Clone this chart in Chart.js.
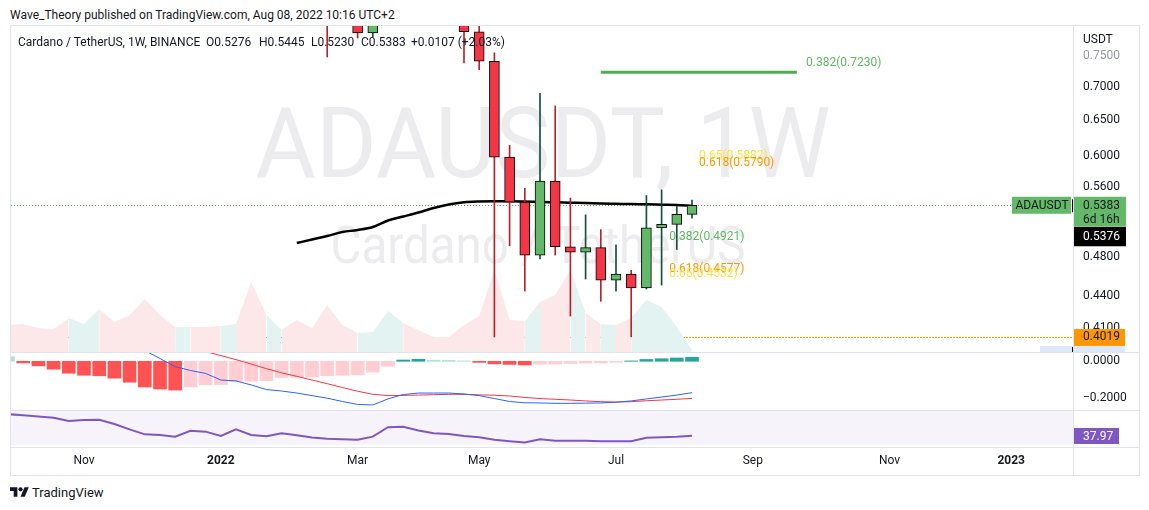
<!DOCTYPE html>
<html>
<head>
<meta charset="utf-8">
<title>ADAUSDT 1W</title>
<script src="https://cdn.jsdelivr.net/npm/chart.js@4.4.1/dist/chart.umd.min.js"></script>
<style>
  html, body { margin: 0; padding: 0; background: #fff; }
  body { position: relative; width: 1149px; height: 510px; overflow: hidden;
         font-family: Roboto, 'Liberation Sans', sans-serif; color: #131722; }
  canvas { position: absolute; }
  .line { position: absolute; background: #e0e3eb; }
  .txt { position: absolute; white-space: nowrap; font-size: 12px; line-height: 14px; }
  #legend { position: absolute; left: 0; top: 0; z-index: 2; }
</style>
</head>
<body>
<div class="txt" style="left:10px; top:8px;">Wave_Theory published on TradingView.com, Aug 08, 2022 10:16 UTC+2</div>

<canvas id="main" width="1128" height="326" style="left:11px; top:26px;"></canvas>
<canvas id="macd" width="1128" height="57" style="left:11px; top:353px;"></canvas>
<canvas id="rsi" width="1128" height="64" style="left:11px; top:411px;"></canvas>

<div class="line" style="left:10px; top:25px; width:1130px; height:1px;"></div>
<div class="line" style="left:10px; top:352px; width:1130px; height:1px;"></div>
<div class="line" style="left:10px; top:410px; width:1130px; height:1px;"></div>
<div class="line" style="left:10px; top:447px; width:1130px; height:1px;"></div>
<div class="line" style="left:10px; top:475px; width:1130px; height:1px;"></div>
<div class="line" style="left:10px; top:25px; width:1px; height:451px;"></div>
<div class="line" style="left:1073px; top:25px; width:1px; height:451px;"></div>
<div class="line" style="left:1139px; top:25px; width:1px; height:451px;"></div>

<div id="legend"></div>

<svg style="position:absolute; left:10px; top:487px;" width="19" height="10" viewBox="0 4 36 18">
  <path d="M14 22H7V11H0V4h14v18zM28 22h-8l7.5-18h8L28 22z" fill="#131722"/>
  <circle cx="20" cy="8" r="4" fill="#131722"/>
</svg>
<div class="txt" style="left:32px; top:485px; font-size:13px; line-height:15px;">TradingView</div>

<script>
// week index: 0 = week of 1 Nov 2021, one step per weekly bar
const weeks = [-5, -4, -3, -2, -1, 0, 1, 2, 3, 4, 5, 6, 7, 8, 9, 10, 11, 12, 13, 14, 15, 16, 17, 18,
               19, 20, 21, 22, 23, 24, 25, 26, 27, 28, 29, 30, 31, 32, 33, 34, 35, 36, 37, 38, 39, 40];

const timeTicks = [0, 9, 18, 26, 35, 44, 53, 61];
const timeLabels = ['Nov', '2022', 'Mar', 'May', 'Jul', 'Sep', 'Nov', '2023'];

const priceTicks = [0.41, 0.44, 0.48, 0.56, 0.60, 0.65, 0.70, 0.75];

// candles visible in the price pane
const candleWeeks = [16, 18, 19, 25, 26, 27, 28, 29, 30, 31, 32, 33, 34, 35, 36, 37, 38, 39, 40];
const opens  = [0.960, 0.820, 0.789, 0.920, 0.791, 0.741, 0.599, 0.542, 0.482, 0.568, 0.491, 0.485, 0.490, 0.456, 0.462, 0.448, 0.512, 0.516, 0.5276];
const highs  = [0.990, 0.860, 0.860, 0.950, 0.920, 0.755, 0.615, 0.559, 0.690, 0.671, 0.547, 0.527, 0.510, 0.493, 0.466, 0.550, 0.557, 0.537, 0.5445];
const lows   = [0.748, 0.780, 0.782, 0.738, 0.727, 0.4019, 0.492, 0.445, 0.478, 0.482, 0.421, 0.457, 0.435, 0.445, 0.402, 0.447, 0.451, 0.488, 0.5230];
const closes = [0.870, 0.789, 0.840, 0.791, 0.741, 0.599, 0.542, 0.482, 0.568, 0.491, 0.485, 0.490, 0.456, 0.462, 0.448, 0.512, 0.516, 0.5276, 0.5383];

// moving average
const maWeeks = [14, 15, 16, 17, 18, 19, 20, 21, 22, 23, 24, 25, 26, 27, 28, 29, 30, 31, 32, 33, 34, 35, 36, 37, 38, 39, 40];
const maValues = [0.4950, 0.4989, 0.5028, 0.5073, 0.5095, 0.5129, 0.5204, 0.5250, 0.5297, 0.5350, 0.5392, 0.5418, 0.5428,
                  0.5432, 0.5431, 0.5427, 0.5422, 0.5418, 0.5414, 0.5410, 0.5405, 0.5401, 0.5397, 0.5394, 0.5390, 0.5386, 0.5376];

// volume (million ADA), one per week; weeks whose bar closed up
const volumes = [1080, 1120, 960, 920, 1360, 1120, 1720, 1200, 1480, 2120, 1480, 1000,
                 1000, 1000, 1040, 1120, 2800, 1480, 880, 1280, 960, 1880, 1080, 760,
                 800, 1640, 1160, 880, 600, 600, 1080, 1440, 3280, 1280, 1240, 2000,
                 2280, 3280, 1560, 1120, 1080, 1360, 2080, 1800, 1000, 80];
const upWeeks = [0, 1, 7, 10, 13, 19, 20, 21, 30, 33, 35, 37, 38, 39, 40];

// MACD
const histValues = [0.025, -0.009, -0.025, -0.043, -0.065, -0.076, -0.079, -0.092, -0.114, -0.140, -0.151, -0.157,
                    -0.140, -0.128, -0.127, -0.110, -0.108, -0.106, -0.088, -0.087, -0.085, -0.079, -0.076, -0.074, -0.059, -0.027,
                    0.007, 0.011, 0.006, 0.005, 0.002, -0.006, -0.014, -0.017, -0.020,
                    -0.016, -0.015, -0.012, -0.010, -0.009, -0.005, 0.002, 0.010, 0.014, 0.018, 0.022];
const macdWeeks = weeks.slice(weeks.indexOf(4));
const macdLine = [0.059, 0.015, -0.029, -0.050, -0.066, -0.102, -0.107, -0.129, -0.154, -0.162, -0.173, -0.187, -0.201,
                  -0.219, -0.235, -0.238, -0.205, -0.181, -0.173, -0.173, -0.173, -0.178, -0.187, -0.203, -0.219, -0.226,
                  -0.227, -0.229, -0.229, -0.228, -0.227, -0.223, -0.216, -0.205, -0.195, -0.184, -0.171];
const signalWeeks = weeks.slice(weeks.indexOf(8));
const signalLine = [0.053, 0.031, 0.009, -0.015, -0.040, -0.063, -0.082, -0.102, -0.122, -0.143, -0.163, -0.180, -0.187,
                    -0.186, -0.184, -0.182, -0.180, -0.180, -0.183, -0.185, -0.189, -0.197, -0.203, -0.207, -0.211, -0.216,
                    -0.220, -0.222, -0.220, -0.215, -0.211, -0.207, -0.202];
const macdTicks = [0, -0.2];

// RSI
const rsiValues = [56.6, 55.6, 54.6, 53.5, 50.7, 51.6, 51.8, 48.1, 43.5, 39.2, 38.6, 37.2,
                   42.3, 41.5, 37.8, 43.5, 38.6, 37.5, 40.1, 38.4, 36.5, 35.4, 34.9, 34.6,
                   37.2, 45.3, 45.8, 42.5, 40.1, 39.5, 37.8, 36.6, 34.5, 33.3, 32.1, 35.0,
                   33.7, 33.7, 33.7, 33.3, 33.2, 33.2, 36.2, 36.6, 37.1, 37.97];
const rsiBand = [30, 70];

// fibonacci levels drawn on the chart
const fibRatios = ['0.382', '0.65', '0.618', '0.382', '0.618', '0.65'];
const fibPrices = [0.7230, 0.5882, 0.5790, 0.4921, 0.4577, 0.4532];
const fibLabelWeek = [47.5, 40.46, 40.46, 38.5, 38.5, 38.5];
const fibLineWeeks = [34, 46.9];

const keyLevel = 0.4019;
const keyLevelFrom = 25;
const symbol = 'ADAUSDT';
const countdown = '6d 16h';
const watermarkTitle = 'ADAUSDT, 1W';
const watermarkSub = 'Cardano / TetherUS';

// ---- styles ----
const UP = '#63b967', DOWN = '#f23645';
const WICK_UP = '#12503a', WICK_DOWN = '#b8202c';
const FIB_COLORS = { '0.382': '#5cb860', '0.618': '#ff9800', '0.65': '#fde03c' };
const FONT = "Roboto, 'Liberation Sans', sans-serif";

Chart.defaults.font.family = FONT;
Chart.defaults.font.size = 12;
Chart.defaults.color = '#131722';

// x mapping shared by all panes: chart area is 1062px wide, week 0 sits 73px from its left edge
const WEEK_PX = 15.2, WEEK0_PX = 73, AREA_W = 1062;
const xScale = {
  type: 'linear', display: false, offset: false, bounds: 'data',
  min: -WEEK0_PX / WEEK_PX, max: (AREA_W - WEEK0_PX) / WEEK_PX
};
const common = {
  responsive: false, animation: false, devicePixelRatio: 1,
  layout: { padding: 0, autoPadding: false },
  plugins: { legend: { display: false }, tooltip: { enabled: false } },
  events: []
};
const rightAxis = {
  position: 'right', bounds: 'data',
  grid: { display: false, drawTicks: false }, border: { display: false },
  afterFit: s => { s.width = 66; s.paddingTop = 0; s.paddingBottom = 0; }
};

const isUp = i => closes[i] >= opens[i];
const last = candleWeeks.length - 1;

// ---- legend ----
(function () {
  const chg = closes[last] - opens[last];
  const pct = chg / opens[last] * 100;
  const items = [
    [18, 'Cardano / TetherUS, 1W, BINANCE'],
    [206, 'O' + opens[last].toFixed(4)],
    [259, 'H' + highs[last].toFixed(4)],
    [311, 'L' + lows[last].toFixed(4)],
    [361, 'C' + closes[last].toFixed(4)],
    [411, (chg >= 0 ? '+' : '') + chg.toFixed(4) + ' (' + (pct >= 0 ? '+' : '') + pct.toFixed(2) + '%)']
  ];
  const box = document.getElementById('legend');
  items.forEach(([left, text]) => {
    const s = document.createElement('div');
    s.className = 'txt';
    s.style.left = left + 'px';
    s.style.top = '35px';
    s.textContent = text;
    box.appendChild(s);
  });
})();

// ---- price pane ----
const mainDecor = {
  id: 'mainDecor',
  beforeDatasetsDraw(chart) {
    const { ctx, chartArea: a, scales: { x, y } } = chart;
    const cx = (a.left + a.right) / 2;
    ctx.save();
    ctx.beginPath();
    ctx.rect(a.left, a.top, a.right - a.left, a.bottom - a.top);
    ctx.clip();

    ctx.fillStyle = '#ececef';
    ctx.textAlign = 'center';
    ctx.textBaseline = 'alphabetic';
    ctx.font = '99px ' + FONT;
    ctx.fillText(watermarkTitle, cx + 1, a.top + 151, 575);
    ctx.font = '51px ' + FONT;
    ctx.fillText(watermarkSub, cx - 4, a.top + 237, 415);

    const hline = (price, x0, color, dash) => {
      const py = Math.round(y.getPixelForValue(price)) + 0.5;
      ctx.strokeStyle = color;
      ctx.lineWidth = 1;
      ctx.setLineDash(dash);
      ctx.beginPath();
      ctx.moveTo(x0, py);
      ctx.lineTo(a.right, py);
      ctx.stroke();
    };
    hline(keyLevel, a.left, '#6a6d78', [1, 2]);
    hline(keyLevel, x.getPixelForValue(keyLevelFrom), '#ff9800', [2, 1]);
    hline(closes[last], a.left, '#4caf50', [1, 2]);
    ctx.restore();
  },
  afterDatasetsDraw(chart) {
    const { ctx, scales: { x, y } } = chart;
    ctx.save();
    ctx.font = '12px ' + FONT;
    ctx.textAlign = 'left';
    ctx.textBaseline = 'alphabetic';
    fibRatios.forEach((r, i) => {
      ctx.fillStyle = FIB_COLORS[r];
      ctx.fillText(r + '(' + fibPrices[i].toFixed(4) + ')',
        x.getPixelForValue(fibLabelWeek[i]), y.getPixelForValue(fibPrices[i]) - 6);
    });
    ctx.restore();
  },
  afterDraw(chart) {
    const { ctx, chartArea: a, scales: { y } } = chart;
    const ax = a.right;
    const ly = y.getPixelForValue(closes[last]);
    const ky = y.getPixelForValue(keyLevel);
    ctx.save();
    ctx.font = '12px ' + FONT;
    ctx.textBaseline = 'middle';

    // symbol tag and last price
    ctx.fillStyle = UP;
    ctx.fillRect(ax - 61, ly - 8.5, 59, 17);
    ctx.fillRect(ax, ly - 8.5, 53, 29.5);
    ctx.fillStyle = '#000';
    ctx.fillRect(ax - 1, ly - 6, 1, 13);
    ctx.fillStyle = '#131722';
    ctx.textAlign = 'center';
    ctx.fillText(symbol, ax - 31, ly + 0.5);
    ctx.textAlign = 'left';
    ctx.fillText(closes[last].toFixed(4), ax + 10, ly + 0.5);
    ctx.fillText(countdown, ax + 10, ly + 14.5);

    // moving average value
    ctx.fillStyle = '#000';
    ctx.fillRect(ax, ly + 21.5, 53, 19.5);
    ctx.fillStyle = '#fff';
    ctx.fillText(maValues[maValues.length - 1].toFixed(4), ax + 10, ly + 31.5);

    // key level
    ctx.fillStyle = '#ff9800';
    ctx.fillRect(ax, ky - 8, 52, 17);
    ctx.fillStyle = '#131722';
    ctx.fillText(keyLevel.toFixed(4), ax + 10, ky + 0.5);
    ctx.fillStyle = '#dce8fb';
    ctx.fillRect(ax - 33, ky + 9, 85, 8);
    ctx.fillStyle = '#000';
    ctx.fillRect(ax - 1, ky + 10, 1, 6);

    ctx.fillStyle = '#131722';
    ctx.fillText('USDT', ax + 10, 14);
    ctx.restore();
  }
};

new Chart(document.getElementById('main'), {
  type: 'bar',
  data: {
    datasets: [
      {
        type: 'line', yAxisID: 'yv',
        data: weeks.map((w, i) => ({ x: w, y: volumes[i] })),
        fill: 'origin', borderColor: 'transparent', borderWidth: 0, pointRadius: 0,
        backgroundColor: '#fde8e9',
        segment: { backgroundColor: c => upWeeks.includes(weeks[c.p1DataIndex]) ? '#e3f3f1' : '#fde8e9' },
        order: 9, clip: 0
      },
      {
        type: 'line',
        data: maWeeks.map((w, i) => ({ x: w, y: maValues[i] })),
        borderColor: '#000', borderWidth: 2.5, pointRadius: 0, cubicInterpolationMode: 'monotone',
        order: 4, clip: 0
      },
      {
        type: 'line',
        data: fibLineWeeks.map(w => ({ x: w, y: fibPrices[0] })),
        borderColor: '#4caf50', borderWidth: 3, pointRadius: 0,
        order: 3, clip: 0
      },
      {
        type: 'bar', grouped: false, barThickness: 1,
        data: candleWeeks.map((w, i) => ({ x: w, y: [lows[i], highs[i]] })),
        backgroundColor: c => isUp(c.dataIndex) ? WICK_UP : WICK_DOWN,
        order: 2, clip: 0
      },
      {
        type: 'bar', grouped: false, barThickness: 10,
        data: candleWeeks.map((w, i) => ({ x: w, y: [opens[i], closes[i]] })),
        backgroundColor: c => isUp(c.dataIndex) ? UP : DOWN,
        borderColor: '#000', borderWidth: 1, borderSkipped: false,
        order: 1, clip: 0
      }
    ]
  },
  options: {
    ...common,
    scales: {
      x: { ...xScale },
      y: {
        ...rightAxis, type: 'logarithmic', min: 0.38873, max: 0.8012,
        afterBuildTicks: s => { s.ticks = priceTicks.map(v => ({ value: v })); },
        ticks: {
          autoSkip: false, padding: 10, labelOffset: 0,
          color: c => (c.tick && c.tick.value === priceTicks[priceTicks.length - 1]) ? '#9598a1' : '#131722',
          callback: v => Number(v).toFixed(4)
        }
      },
      yv: { display: false, min: 0, max: 13040 }
    }
  },
  plugins: [mainDecor]
});

// ---- MACD pane ----
const histColor = c => {
  const i = c.dataIndex;
  const v = histValues[i];
  const prev = i > 0 ? histValues[i - 1] : null;
  if (v >= 0) return (prev !== null && v >= prev) ? '#26a69a' : '#b2dfdb';
  return (prev !== null && v <= prev) ? '#ff5252' : '#ffcdd2';
};

new Chart(document.getElementById('macd'), {
  type: 'bar',
  data: {
    datasets: [
      {
        type: 'bar', grouped: false, barThickness: 13,
        data: weeks.map((w, i) => ({ x: w, y: histValues[i] })),
        backgroundColor: histColor, order: 2, clip: 0
      },
      {
        type: 'line',
        data: macdWeeks.map((w, i) => ({ x: w, y: macdLine[i] })),
        borderColor: '#2962ff', borderWidth: 1, pointRadius: 0, order: 1, clip: 0
      },
      {
        type: 'line',
        data: signalWeeks.map((w, i) => ({ x: w, y: signalLine[i] })),
        borderColor: '#f23645', borderWidth: 1, pointRadius: 0, order: 1, clip: 0
      }
    ]
  },
  options: {
    ...common,
    scales: {
      x: { ...xScale },
      y: {
        ...rightAxis, type: 'linear', min: -0.2654, max: 0.0452,
        afterBuildTicks: s => { s.ticks = macdTicks.map(v => ({ value: v })); },
        ticks: { autoSkip: false, padding: 10, callback: v => Number(v).toFixed(4).replace('-', '\u2212') }
      }
    }
  }
});

// ---- RSI pane + time axis ----
const rsiDecor = {
  id: 'rsiDecor',
  beforeDatasetsDraw(chart) {
    const { ctx, chartArea: a, scales: { y } } = chart;
    const top = Math.max(a.top, y.getPixelForValue(rsiBand[1]));
    const bot = Math.min(a.bottom, y.getPixelForValue(rsiBand[0]));
    ctx.save();
    ctx.fillStyle = 'rgba(126,87,194,0.07)';
    ctx.fillRect(a.left, top, a.right - a.left, bot - top);
    ctx.restore();
  },
  afterDraw(chart) {
    const { ctx, chartArea: a, scales: { y } } = chart;
    const v = rsiValues[rsiValues.length - 1];
    const py = y.getPixelForValue(v);
    ctx.save();
    ctx.fillStyle = '#7e57c2';
    ctx.fillRect(a.right, Math.round(py) - 8, 46, 16);
    ctx.fillStyle = '#fff';
    ctx.font = '12px ' + FONT;
    ctx.textBaseline = 'middle';
    ctx.textAlign = 'left';
    ctx.fillText(v.toFixed(2), a.right + 10, Math.round(py) + 0.5);
    ctx.restore();
  }
};

new Chart(document.getElementById('rsi'), {
  type: 'line',
  data: {
    datasets: [{
      data: weeks.map((w, i) => ({ x: w, y: rsiValues[i] })),
      borderColor: '#7e57c2', borderWidth: 2, pointRadius: 0, clip: 0
    }]
  },
  options: {
    ...common,
    scales: {
      x: {
        ...xScale, display: true, position: 'bottom',
        grid: { display: false, drawTicks: false }, border: { display: false },
        afterBuildTicks: s => { s.ticks = timeTicks.map(v => ({ value: v })); },
        afterFit: s => { s.height = 28; s.paddingLeft = 0; s.paddingRight = 0; },
        ticks: {
          autoSkip: false, maxRotation: 0, padding: 7, color: '#131722',
          font: c => {
            const lab = c.tick ? timeLabels[timeTicks.indexOf(c.tick.value)] : '';
            return { size: 12, weight: /^\d/.test(lab || '') ? 'bold' : 'normal' };
          },
          callback: v => timeLabels[timeTicks.indexOf(v)]
        }
      },
      y: {
        ...rightAxis, type: 'linear', min: 28.28, max: 59.31,
        ticks: { display: false }
      }
    }
  },
  plugins: [rsiDecor]
});
</script>
</body>
</html>
